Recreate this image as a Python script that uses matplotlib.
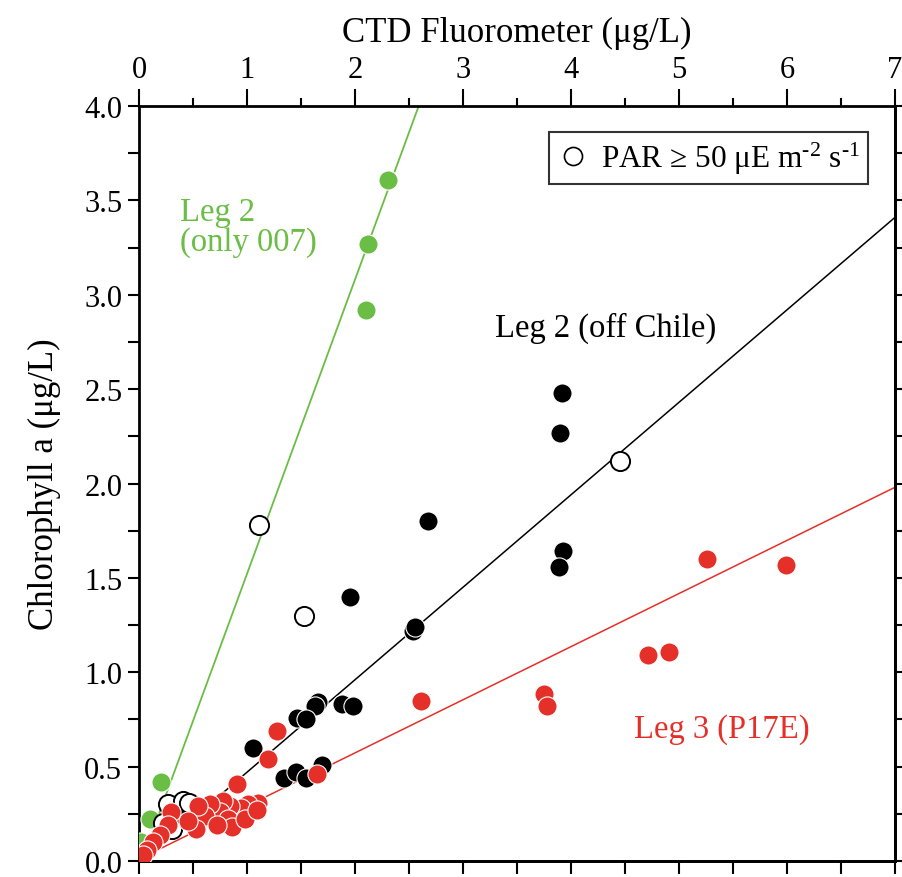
import numpy as np
import matplotlib.pyplot as plt
from matplotlib.lines import Line2D
from matplotlib.ticker import MultipleLocator

plt.rcParams['font.family'] = ['Liberation Serif', 'DejaVu Serif']
plt.rcParams['mathtext.fontset'] = 'custom'
plt.rcParams['mathtext.rm'] = 'Liberation Serif'
plt.rcParams['mathtext.it'] = 'Liberation Serif:italic'

GREEN = '#6abd45'
RED = '#e5302a'

# Leg 2 (only 007)
green_x = [2.31, 2.12, 2.10, 0.20, 0.10, 0.02]
green_y = [3.61, 3.27, 2.92, 0.42, 0.22, 0.10]

# Leg 2 (off Chile)
black_x = [3.92, 3.90, 3.93, 3.89, 2.68, 1.95, 2.54, 2.56, 1.66, 1.63, 1.88, 1.98,
           1.46, 1.55, 1.06, 1.34, 1.45, 1.55, 1.69, 0.30, 0.22, 0.38, 0.50]
black_y = [2.48, 2.27, 1.64, 1.56, 1.80, 1.40, 1.22, 1.24, 0.84, 0.82, 0.83, 0.82,
           0.76, 0.75, 0.60, 0.44, 0.47, 0.44, 0.51, 0.22, 0.17, 0.25, 0.20]

# PAR >= 50 (open circles)
open_x = [1.11, 1.53, 4.45, 0.27, 0.41, 0.46, 0.31, 0.22]
open_y = [1.78, 1.30, 2.12, 0.30, 0.32, 0.31, 0.17, 0.20]

# Leg 3 (P17E)
red_x = [5.99, 5.26, 4.91, 4.71, 3.75, 3.78, 2.61, 1.28, 1.19, 1.65, 0.91, 1.10,
         1.01, 0.94, 0.84, 0.78, 0.75, 0.82, 0.86, 0.98, 1.09, 0.66, 0.61, 0.55,
         0.53, 0.45, 0.30, 0.27, 0.19, 0.13, 0.07, 0.04, 0.72]
red_y = [1.57, 1.60, 1.11, 1.09, 0.885, 0.82, 0.85, 0.69, 0.54, 0.46, 0.41, 0.31,
         0.30, 0.28, 0.29, 0.32, 0.26, 0.22, 0.18, 0.22, 0.27, 0.30, 0.24, 0.29,
         0.17, 0.21, 0.26, 0.19, 0.14, 0.10, 0.06, 0.03, 0.19]

# regression lines (end points)
green_line_x = [0.05, 2.59]
green_line_y = [0.04, 4.00]
black_line_x = [0.05, 7.00]
black_line_y = [0.005, 3.41]
red_line_x = [0.00, 7.00]
red_line_y = [0.01, 1.98]

fig = plt.figure(figsize=(9.02, 8.78), dpi=100)
ax = fig.add_axes([0.1541, 0.0182, 0.8381, 0.8599])

ax.plot(green_line_x, green_line_y, color=GREEN, lw=1.3, zorder=2)
ax.plot(black_line_x, black_line_y, color='black', lw=1.1, zorder=2)
ax.plot(red_line_x, red_line_y, color=RED, lw=1.1, zorder=2)

ms = 190
ax.scatter(green_x, green_y, s=ms, color=GREEN, edgecolor='white', lw=0.8, zorder=3)
ax.scatter(black_x, black_y, s=ms, color='black', edgecolor='white', lw=0.8, zorder=3)
ax.scatter(open_x, open_y, s=ms, facecolor='white', edgecolor='black', lw=1.4, zorder=4)
ax.scatter(red_x, red_y, s=ms, color=RED, edgecolor='white', lw=0.8, zorder=5)

ax.text(0.38, 3.36, 'Leg 2\n(only 007)', color=GREEN, fontsize=23.5, va='center',
        ha='left', linespacing=1.0)
ax.text(3.30, 2.83, 'Leg 2 (off Chile)', color='black', fontsize=23.5, va='center')
ax.text(4.58, 0.70, 'Leg 3 (P17E)', color=RED, fontsize=23.5, va='center')

handle = Line2D([], [], marker='o', ls='', mfc='white', mec='black', mew=1.2, ms=13)
leg = ax.legend([handle], [r'PAR ≥ 50 μE m$^{\text{-2}}$ s$^{\text{-1}}$'],
                loc='upper right', bbox_to_anchor=(0.964, 0.966), fontsize=22.5,
                frameon=True, fancybox=False, handletextpad=0.4, handlelength=1.0,
                borderpad=0.25, borderaxespad=0)
leg.get_frame().set_edgecolor('black')
leg.get_frame().set_linewidth(1.5)

ax.set_xlim(0, 7)
ax.set_ylim(0, 4)

ax.xaxis.set_major_locator(MultipleLocator(1))
ax.xaxis.set_minor_locator(MultipleLocator(0.5))
ax.yaxis.set_major_locator(MultipleLocator(0.5))
ax.yaxis.set_minor_locator(MultipleLocator(0.25))
ax.yaxis.set_major_formatter(plt.FormatStrFormatter('%.1f'))

ax.tick_params(axis='x', which='both', top=True, bottom=False, labeltop=True,
               labelbottom=False, direction='out', width=1.5, labelsize=22, pad=4)
ax.tick_params(axis='x', which='major', length=12)
ax.tick_params(axis='x', which='minor', length=6)
ax.tick_params(axis='y', which='both', left=True, right=False, direction='out',
               width=1.5, length=8, labelsize=22, pad=4)
ax.xaxis.set_label_position('top')
ax.set_xlabel('CTD Fluorometer (μg/L)', fontsize=25, labelpad=10)
ax.set_ylabel('Chlorophyll a (μg/L)', fontsize=25, labelpad=17)

secx = ax.secondary_xaxis('bottom')
secx.set_xticks(np.arange(0, 7.01, 0.5))
secx.tick_params(length=9, width=1.5, direction='out', labelbottom=False)
secy = ax.secondary_yaxis('right')
secy.set_yticks(np.arange(0, 4.01, 0.25))
secy.tick_params(length=8, width=1.5, direction='out', labelright=False)

for s in ax.spines.values():
    s.set_linewidth(2)
for s in list(secx.spines.values()) + list(secy.spines.values()):
    s.set_linewidth(2)

fig.savefig('out.png', dpi=100)
